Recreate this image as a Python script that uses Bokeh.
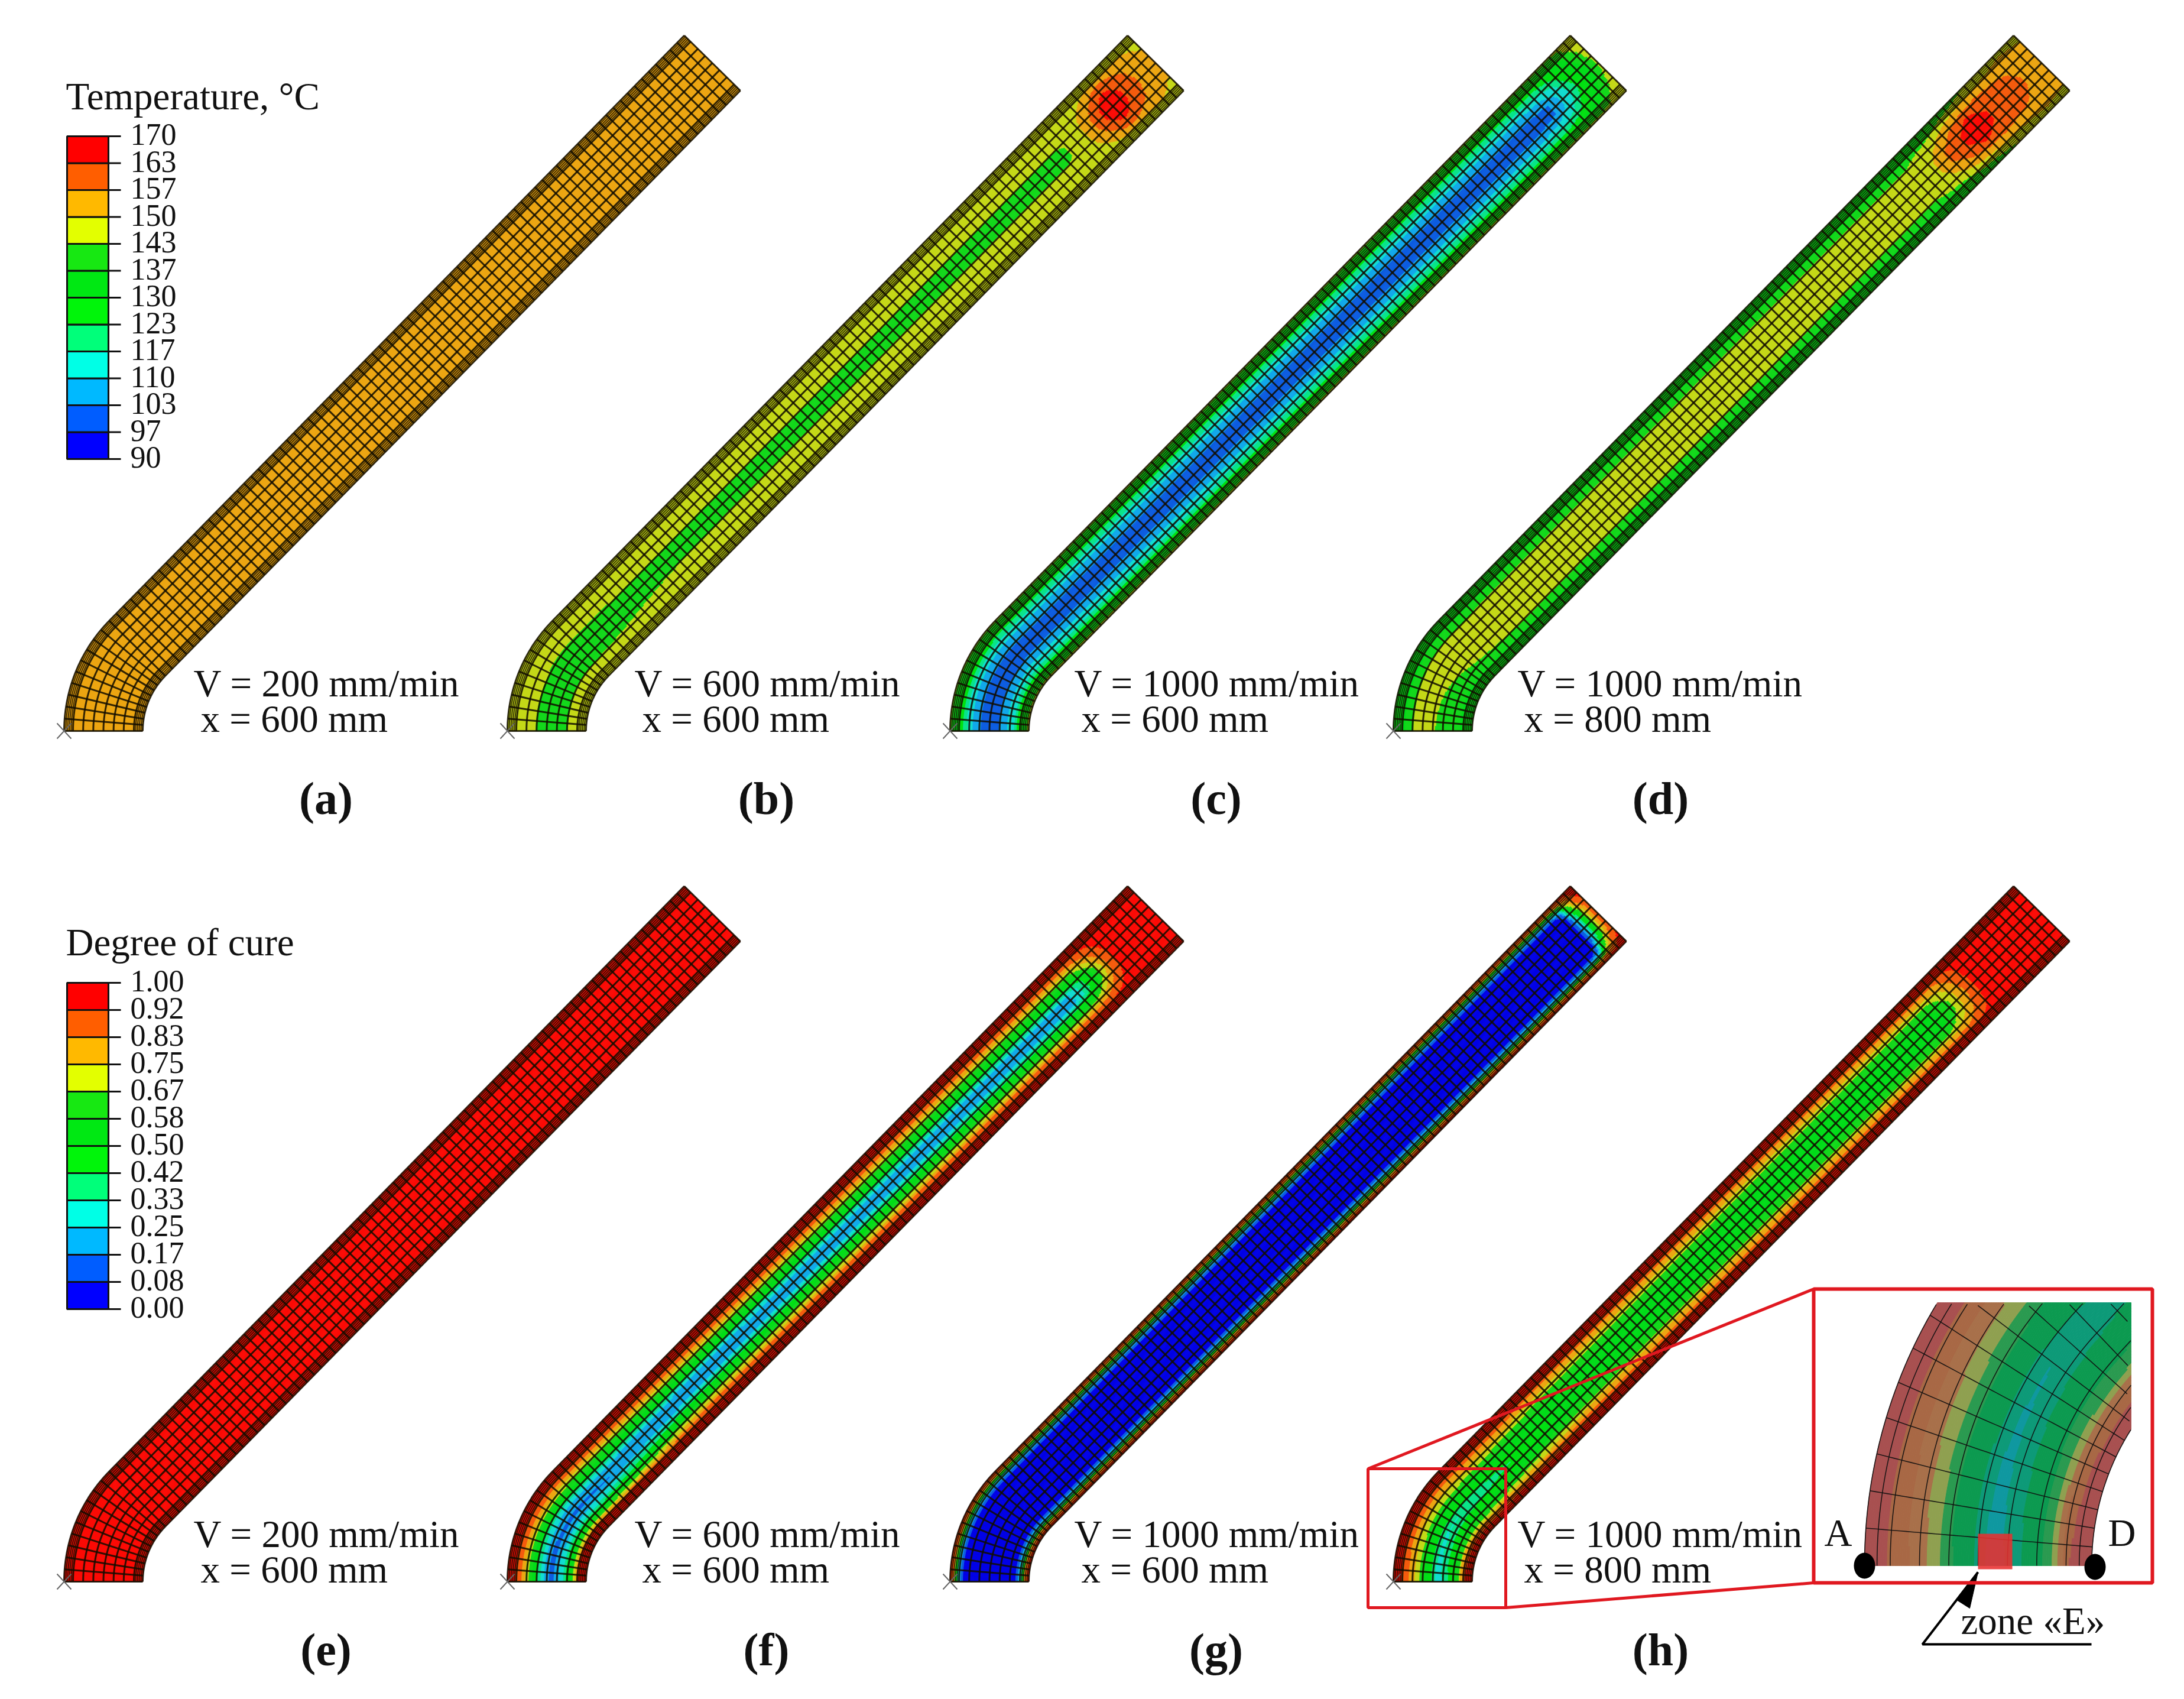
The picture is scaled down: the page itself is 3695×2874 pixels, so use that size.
import numpy as np
from bokeh.core.properties import value
from bokeh.embed import file_html
from bokeh.models import ColumnDataSource, Range1d
from bokeh.plotting import figure
from bokeh.resources import INLINE

# ---------- legend data ----------
temp_levels = [90, 97, 103, 110, 117, 123, 130, 137, 143, 150, 157, 163, 170]
cure_levels = [0.00, 0.08, 0.17, 0.25, 0.33, 0.42, 0.50, 0.58, 0.67, 0.75, 0.83, 0.92, 1.00]
legend_colors = ["#0000ff", "#005dff", "#00b9ff", "#00ffe6", "#00ff7a", "#00f50a",
                 "#00e813", "#17e812", "#e3ff00", "#ffb900", "#ff5e00", "#ff0000"]
field_colors = ["#0000e6", "#0c5ce0", "#10a8ea", "#10dcd0", "#08e488", "#00e010",
                "#00dc18", "#12d81a", "#c4d816", "#eca511", "#f45a0c", "#fb0a05"]
inset_colors = ["#10309a", "#10609f", "#1088a8", "#0f98a0", "#0d9a78", "#0c9a50",
                "#0c9a50", "#2a9a50", "#8fa050", "#a8704a", "#a86845", "#a85050"]

# Positions across the strip (0 = outer edge, 1 = inner edge)
across = [0, .05, .10, .178, .306, .435, .565, .694, .822, .90, .95, 1]

# ---------- field tables: one row of values per station along the strip ----------
a_stations = [0, 1540]
a_values = [[153.5] * 12, [153.5] * 12]

b_stations = [0, 150, 400, 1320, 1360, 1385, 1410, 1425, 1443, 1462, 1480, 1505, 1540]
b_values = [
    [148, 147.5, 147, 146, 145, 141, 139, 140, 145, 147, 147.5, 148],
    [147, 147, 146, 146, 144.5, 140, 139, 141, 145, 147, 147, 147],
    [147, 147, 146, 146, 145, 141, 141, 145, 146, 146, 147, 147],
    [147, 147, 146, 146, 145, 141.5, 141.5, 145, 146, 146, 147, 147],
    [147, 147, 147, 147, 147, 146, 146, 147, 147, 147, 147, 147],
    [147, 147, 147, 148, 151, 153, 153, 151, 148, 147, 147, 147],
    [147, 147, 148, 152, 158, 162, 162, 158, 152, 148, 147, 147],
    [147, 148, 149, 156, 162, 164.5, 164.5, 162, 156, 149, 148, 147],
    [147, 148, 150, 158, 164, 166, 166, 164, 158, 150, 148, 147],
    [147, 148, 150, 157, 162, 164, 164, 162, 157, 150, 148, 147],
    [147, 148, 150, 155, 159.5, 161, 161, 159.5, 155, 150, 148, 147],
    [147, 148, 150, 153, 155, 156, 156, 155, 153, 150, 148, 147],
    [146, 147, 147, 148.5, 151, 152, 152, 151, 148.5, 147, 147, 146],
]

c_stations = [0, 150, 1380, 1430, 1460, 1490, 1520, 1540]
c_values = [
    [146, 136, 132, 121, 109, 100, 100, 107, 117, 132, 136, 146],
    [146, 136, 132, 120, 108, 100, 100, 108, 119, 132, 136, 146],
    [146, 136, 132, 120, 108, 100, 100, 108, 120, 132, 136, 146],
    [146, 136, 132, 122, 111, 102, 102, 111, 122, 132, 136, 146],
    [146, 136, 134, 125, 117, 112, 112, 117, 125, 134, 136, 146],
    [146, 138, 137, 132, 128, 124, 124, 128, 132, 137, 138, 146],
    [146, 145, 144, 141, 138, 134, 134, 138, 141, 144, 145, 146],
    [148, 148, 147, 146, 145, 143, 143, 145, 146, 147, 148, 148],
]

d_stations = [0, 80, 150, 250, 1250, 1290, 1320, 1350, 1385, 1420, 1470, 1500, 1540]
d_values = [
    [133, 133, 134, 138, 146, 146, 142, 140, 139, 134, 133, 133],
    [133, 133, 134, 139, 146, 147, 143.5, 141, 139, 134, 133, 133],
    [133, 133, 134, 140, 146, 147, 146, 143.5, 140, 134, 133, 133],
    [133, 133, 134, 141, 146, 147, 147, 146, 141, 134, 133, 133],
    [133, 133, 134, 141, 146, 147, 147, 146, 141, 134, 133, 133],
    [134, 134, 136, 144, 147, 149, 149, 147, 144, 136, 134, 134],
    [136, 137, 140, 147, 152, 158, 158, 152, 147, 140, 137, 136],
    [138, 140, 145, 151, 159, 162, 162, 159, 151, 145, 140, 138],
    [140, 143, 147, 155, 163.5, 167, 167, 163.5, 155, 147, 143, 140],
    [143, 146, 149, 156, 161, 163, 163, 161, 156, 149, 146, 143],
    [146, 148, 151, 155, 159, 161, 161, 159, 155, 151, 148, 146],
    [147, 150, 152, 154, 155.5, 157, 157, 155.5, 154, 152, 150, 147],
    [144, 147, 150, 153, 154, 154, 154, 154, 153, 150, 147, 144],
]

e_stations = [0, 1540]
e_values = [[0.96] * 12, [0.96] * 12]

f_stations = [0, 150, 400, 1340, 1370, 1400, 1425, 1450, 1540]
f_values = [
    [.98, .96, .93, .85, .60, .30, .13, .30, .60, .92, .96, .98],
    [.98, .96, .93, .82, .60, .27, .15, .28, .62, .92, .96, .98],
    [.98, .96, .93, .80, .58, .24, .21, .54, .80, .93, .96, .98],
    [.98, .96, .93, .80, .58, .25, .23, .54, .80, .93, .96, .98],
    [.98, .96, .94, .82, .60, .38, .36, .58, .82, .94, .96, .98],
    [.98, .97, .95, .87, .75, .62, .62, .75, .87, .95, .97, .98],
    [.98, .97, .96, .93, .88, .83, .83, .88, .93, .96, .97, .98],
    [.97, .97, .97, .97, .97, .97, .97, .97, .97, .97, .97, .97],
    [.97, .97, .97, .97, .97, .97, .97, .97, .97, .97, .97, .97],
]

g_stations = [0, 1480, 1497, 1512, 1527, 1540]
g_values = [
    [.96, .85, .30, .03, .03, .03, .03, .03, .03, .30, .85, .96],
    [.96, .85, .30, .03, .03, .03, .03, .03, .03, .30, .85, .96],
    [.96, .85, .40, .12, .05, .05, .05, .05, .12, .40, .85, .96],
    [.96, .88, .75, .60, .35, .30, .30, .35, .60, .75, .88, .96],
    [.97, .92, .88, .82, .72, .68, .68, .72, .82, .88, .92, .97],
    [.97, .97, .95, .92, .88, .85, .85, .88, .92, .95, .97, .97],
]

h_stations = [0, 150, 400, 1290, 1325, 1345, 1375, 1400, 1540]
h_values = [
    [.97, .95, .92, .85, .72, .50, .27, .42, .65, .92, .95, .97],
    [.97, .95, .92, .82, .68, .50, .34, .46, .65, .85, .95, .97],
    [.97, .95, .92, .79, .62, .55, .53, .60, .79, .92, .95, .97],
    [.97, .95, .92, .79, .62, .55, .53, .60, .79, .92, .95, .97],
    [.97, .95, .92, .80, .72, .66, .66, .72, .82, .92, .95, .97],
    [.97, .96, .94, .86, .80, .76, .76, .80, .86, .94, .96, .97],
    [.97, .97, .96, .94, .92, .91, .91, .92, .94, .96, .97, .97],
    [.97, .97, .97, .97, .97, .97, .97, .97, .97, .97, .97, .97],
    [.97, .97, .97, .97, .97, .97, .97, .97, .97, .97, .97, .97],
]

# ---------- texts ----------
speed_labels = ["V = 200 mm/min", "V = 600 mm/min", "V = 1000 mm/min", "V = 1000 mm/min"]
dist_top = ["x = 600 mm", "x = 600 mm", "x = 600 mm", "x = 800 mm"]
captions_top = ["(a)", "(b)", "(c)", "(d)"]
captions_bottom = ["(e)", "(f)", "(g)", "(h)"]

# ---------- layout ----------
WIDTH, HEIGHT = 3679, 2858
FONT = value("Liberation Serif")
W, R_IN = 133.0, 133.0
TH = np.radians(44.5)
R_MID = R_IN + W / 2
L_BEND = R_MID * TH
L_TOTAL = 1543.0
BASE_Y = [1236, 2675]
X0 = [108, 858, 1607, 2357]
SPEED_X = [327, 1073, 1817, 2567]
DIST_X = [339, 1086, 1829, 2578]
CAP_X = [551, 1296, 2057, 2809]
CAP_Y = [1350, 2790]
TXT = 21  # lift of a text line from its visual baseline

p = figure(width=WIDTH, height=HEIGHT, x_range=Range1d(0, WIDTH), y_range=Range1d(HEIGHT, 0),
           x_axis_type=None, y_axis_type=None, toolbar_location=None, output_backend="svg",
           min_border=0, outline_line_color=None, background_fill_color="white")
p.grid.visible = False


def strip_xy(l, u, x0, base):
    """Map (distance along strip, position across) to page coordinates."""
    l, u = np.asarray(l, float), np.asarray(u, float)
    rad = R_IN + W * (1 - u)
    cx = x0 + W + R_IN
    th = np.minimum(l, L_BEND) / R_MID * 1.0
    extra = np.maximum(l - L_BEND, 0)
    x = cx - rad * np.cos(th) + extra * np.sin(TH)
    y = base - rad * np.sin(th) - extra * np.cos(TH)
    return x, y


def clip_poly(pts, axis, limit, keep_less):
    out = []
    n = len(pts)
    for i in range(n):
        a, b = pts[i], pts[(i + 1) % n]
        ina = a[axis] <= limit if keep_less else a[axis] >= limit
        inb = b[axis] <= limit if keep_less else b[axis] >= limit
        if ina:
            out.append(a)
        if ina != inb:
            t = (limit - a[axis]) / (b[axis] - a[axis])
            out.append((a[0] + t * (b[0] - a[0]), a[1] + t * (b[1] - a[1])))
    return out


def field_patches(stations, vals, levels, colors, x0, base, lmax=L_TOTAL, dl=3.0, nu=66,
                  transform=None, clip=None):
    vals = np.asarray(vals, float)
    u_e = np.linspace(0, 1, nu + 1)
    u_c = .5 * (u_e[1:] + u_e[:-1])
    n_l = int(round(lmax / dl))
    l_e = np.linspace(0, lmax, n_l + 1)
    l_c = .5 * (l_e[1:] + l_e[:-1])
    cross = np.array([np.interp(u_c, across, row) for row in vals])
    grid = np.array([np.interp(l_c, stations, cross[:, j]) for j in range(nu)])
    idx = np.clip(np.digitize(grid, levels) - 1, 0, 11)
    xs, ys, cs = [], [], []
    for j in range(nu):
        col = idx[j]
        changes = np.flatnonzero(np.diff(col)) + 1
        starts = np.r_[0, changes]
        ends = np.r_[changes, n_l]
        for s, e in zip(starts, ends):
            ls = l_e[s:e + 1]
            keep = (ls <= L_BEND + dl) | (ls == ls[0]) | (ls == ls[-1])
            ls = ls[keep]
            xa, ya = strip_xy(ls, np.full(ls.shape, u_e[j]), x0, base)
            xb, yb = strip_xy(ls[::-1], np.full(ls.shape, u_e[j + 1]), x0, base)
            px = np.r_[xa, xb]
            py = np.r_[ya, yb]
            if transform:
                px, py = transform(px, py)
            pts = list(zip(px.tolist(), py.tolist()))
            if clip:
                for c in clip:
                    if pts:
                        pts = clip_poly(pts, *c)
                if len(pts) < 3:
                    continue
            xs.append([q[0] for q in pts])
            ys.append([q[1] for q in pts])
            cs.append(colors[col[s]])
    return xs, ys, cs


def draw_field(xs, ys, cs):
    src = ColumnDataSource(dict(xs=xs, ys=ys, c=cs))
    p.patches("xs", "ys", source=src, fill_color="c", line_color="c", line_width=1.0)


BAND = [.0226, .0452, .0678, .0904]
MAIN_U = [.113 + .129 * k for k in range(7)]
N_BEND, N_STRAIGHT = 10, 81
MESH_L = list(np.linspace(0, L_BEND, N_BEND + 1)) + list(np.linspace(L_BEND, L_TOTAL, N_STRAIGHT + 1))[1:]


def draw_mesh(x0, base):
    ls = np.r_[np.linspace(0, L_BEND, 30), L_TOTAL]
    mx, my = [], []
    for u in MAIN_U + [0, 1]:
        x, y = strip_xy(ls, np.full(ls.shape, u), x0, base)
        mx.append(x.tolist()); my.append(y.tolist())
    for l in MESH_L:
        x, y = strip_xy(np.full(2, l), np.array([0., 1.]), x0, base)
        mx.append(x.tolist()); my.append(y.tolist())
    p.multi_line(mx, my, line_color="#120d00", line_width=3.0, line_alpha=0.85)
    bx, by = [], []
    for u in BAND + [1 - b for b in BAND]:
        x, y = strip_xy(ls, np.full(ls.shape, u), x0, base)
        bx.append(x.tolist()); by.append(y.tolist())
    p.multi_line(bx, by, line_color="#120d00", line_width=1.9, line_alpha=0.8)
    # the small grey cross at the origin node
    p.multi_line([[x0 - 12, x0 + 12], [x0 - 12, x0 + 12]], [[base - 13, base + 13], [base + 13, base - 13]],
                 line_color="#666666", line_width=2)


panels = [
    (a_stations, a_values, temp_levels), (b_stations, b_values, temp_levels),
    (c_stations, c_values, temp_levels), (d_stations, d_values, temp_levels),
    (e_stations, e_values, cure_levels), (f_stations, f_values, cure_levels),
    (g_stations, g_values, cure_levels), (h_stations, h_values, cure_levels),
]
for i, (st, vals, lev) in enumerate(panels):
    x0, base = X0[i % 4], BASE_Y[i // 4]
    draw_field(*field_patches(st, vals, lev, field_colors, x0, base))
    draw_mesh(x0, base)

# ---------- texts under and beside the strips ----------
for r, caps in enumerate([captions_top, captions_bottom]):
    base = BASE_Y[r]
    p.text(SPEED_X, [base - 60 - TXT] * 4, text=speed_labels, text_font=FONT, text_font_size="65px",
           text_baseline="alphabetic", text_color="#111111")
    p.text(DIST_X, [base - TXT] * 4, text=dist_top, text_font=FONT, text_font_size="65px",
           text_baseline="alphabetic", text_color="#111111")
    p.text(CAP_X, [CAP_Y[r]] * 4, text=caps, text_font=FONT, text_font_size="78px", text_font_style="bold",
           text_align="center", text_baseline="alphabetic", text_color="#111111")


# ---------- colour legends ----------
def legend(title, title_y, levels, labels, top, bottom):
    n = len(levels) - 1
    edges = np.linspace(bottom, top, n + 1)
    p.quad(left=[113] * n, right=[183] * n, bottom=edges[:-1].tolist(), top=edges[1:].tolist(),
           fill_color=legend_colors, line_color="#111111", line_width=3)
    p.segment([183] * (n + 1), edges.tolist(), [204] * (n + 1), edges.tolist(), line_color="#111111", line_width=3)
    p.text([220] * (n + 1), (edges - 3).tolist(), text=labels, text_font=FONT, text_font_size="52px",
           text_baseline="alphabetic", text_color="#111111")
    p.text([111], [title_y], text=[title], text_font=FONT, text_font_size="65px",
           text_baseline="alphabetic", text_color="#111111")


legend("Temperature, °C", 162, temp_levels, [str(v) for v in temp_levels], 230, 776)
legend("Degree of cure", 1593, cure_levels, [f"{v:.2f}" for v in cure_levels], 1662, 2214)

# ---------- inset of panel (h) ----------
RED = "#e01820"
MAG_X, MAG_Y = 2.89, 3.08
IX, IY = 3154, 2648
hx0, hbase = X0[3], BASE_Y[1]


def to_inset(x, y):
    return IX + MAG_X * (np.asarray(x) - hx0), IY + MAG_Y * (np.asarray(y) - hbase)


clips = [(0, 3605, True), (1, 2203, False)]
draw_field(*field_patches(h_stations, h_values, cure_levels, inset_colors, hx0, hbase, lmax=260.0, dl=1.0,
                          nu=120, transform=to_inset, clip=clips))

mx, my = [], []
fine = np.linspace(0, 260, 200)
for u in [0, .055] + MAIN_U + [.945, 1]:
    x, y = to_inset(*strip_xy(fine, np.full(fine.shape, u), hx0, hbase))
    k = (x <= 3605) & (y >= 2203)
    mx.append(x[k].tolist()); my.append(y[k].tolist())
for l in MESH_L:
    if l > 260:
        break
    if l == 0:
        continue
    uu = np.linspace(0, 1, 40)
    x, y = to_inset(*strip_xy(np.full(uu.shape, l), uu, hx0, hbase))
    k = (x <= 3605) & (y >= 2203)
    if k.sum() > 1:
        mx.append(x[k].tolist()); my.append(y[k].tolist())
p.multi_line(mx, my, line_color="#101010", line_width=1.6, line_alpha=0.9)

# red zone E, nodes A and D
p.quad(left=[3346], right=[3404], top=[2594], bottom=[2654], fill_color="#e83030", fill_alpha=0.88, line_color=None)
p.ellipse([3154, 3544], [2648, 2650], width=36, height=44, fill_color="black", line_color=None)
p.text([3086, 3566], [2592, 2592], text=["A", "D"], text_font=FONT, text_font_size="65px",
       text_baseline="alphabetic", text_color="#111111")

# arrow and zone label
p.line([3538, 3252, 3346], [2781, 2781, 2659], line_color="black", line_width=4)
p.patches([[3346, 3310, 3332]], [[2659, 2706, 2720]], fill_color="black", line_color="black")
p.text([3317], [2741], text=["zone «E»"], text_font=FONT, text_font_size="65px",
       text_baseline="alphabetic", text_color="#111111")

# red frames and connectors
p.line([3068, 2314], [2180, 2484], line_color=RED, line_width=5)
p.line([3068, 2547], [2677, 2719], line_color=RED, line_width=5)
p.quad(left=[2314], right=[2547], top=[2484], bottom=[2719], fill_color=None, line_color=RED, line_width=5)
p.quad(left=[3068], right=[3641], top=[2180], bottom=[2677], fill_color=None, line_color=RED, line_width=6)

open("out.html", "w").write(file_html(p, INLINE))
